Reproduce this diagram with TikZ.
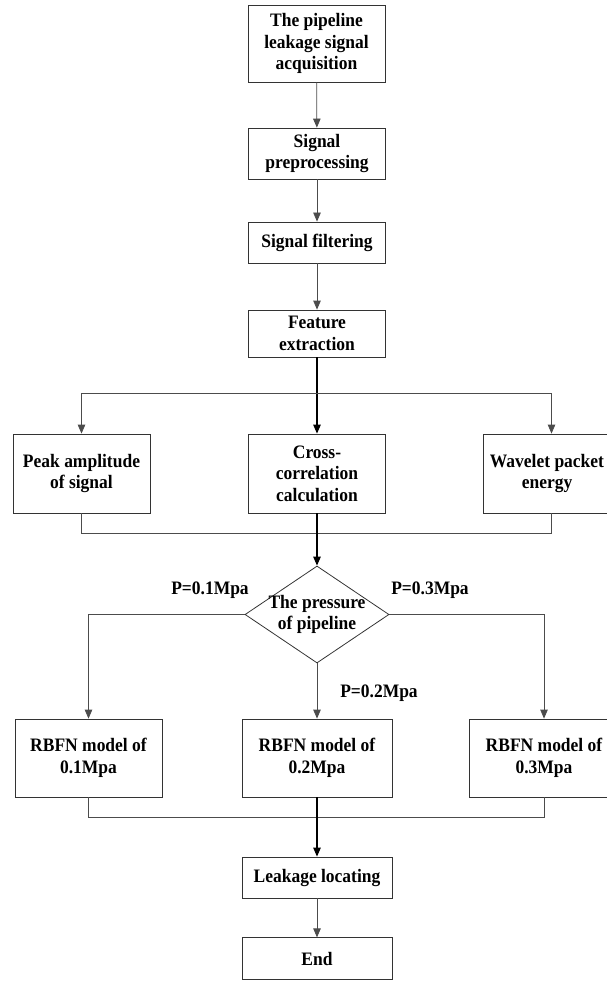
\documentclass[tikz,border=0pt]{standalone}
\usepackage{fontspec}
\setmainfont{Liberation Serif}[FakeStretch=0.92]
\usetikzlibrary{shapes.geometric, arrows.meta, positioning}
\tikzstyle{block} = [rectangle, draw=black!80, line width=0.8pt, align=center, minimum width=137pt, inner sep=0pt, font=\fontsize{19}{21.5}\selectfont\bfseries]
\tikzstyle{decision} = [diamond, draw=black!80, line width=0.8pt, minimum width=144pt, minimum height=97pt, inner sep=0pt]
\tikzstyle{tag} = [inner sep=0pt, font=\fontsize{19}{21.5}\selectfont\bfseries]
\tikzstyle{line} = [draw=black!70, line width=0.8pt, -{Triangle[length=9pt, width=7.5pt]}]
\tikzstyle{link} = [draw=black!70, line width=0.8pt]

\begin{document}
\begin{tikzpicture}[x=1pt, y=-1pt]
        \useasboundingbox (0,0) rectangle (606,981);
        % Nodes
        \node [block, minimum height=77pt] (acq) at (316.5,43.5) {The pipeline\\leakage signal\\acquisition};
        \node [block, minimum height=51pt] (prep) at (317,153.5) {Signal\\preprocessing};
        \node [block, minimum height=41pt] (filt) at (317,242.5) {Signal filtering};
        \node [block, minimum height=47pt] (feat) at (317,333.5) {Feature\\extraction};
        \node [block, minimum height=79pt] (peak) at (81.5,473.5) {Peak amplitude\\of signal};
        \node [block, minimum height=79pt] (cross) at (317,473.5) {Cross-\\correlation\\calculation};
        \node [block, minimum height=79pt] (wave) at (551.5,473.5) {Wavelet packet\hspace*{9pt}\\energy\hspace*{9pt}};
        \node [decision, label={[tag, align=center]center:The pressure\\of pipeline}] (dec) at (317,614.5) {};
        \node [block, minimum width=147pt, minimum height=78pt] (m1) at (88.5,758) {RBFN model of\\0.1Mpa};
        \node [block, minimum width=150pt, minimum height=78pt] (m2) at (317,758) {RBFN model of\\0.2Mpa};
        \node [block, minimum width=150pt, minimum height=78pt] (m3) at (544,758) {RBFN model of\\0.3Mpa};
        \node [block, minimum width=150pt, minimum height=41pt] (locate) at (317,877.5) {Leakage locating};
        \node [block, minimum width=150pt, minimum height=42pt, below=39pt of locate] (end) {End};
        \node [tag] (p1) at (210,590) {P=0.1Mpa};
        \node [tag] (p3) at (430,590) {P=0.3Mpa};
        \node [tag] (p2) at (379,693) {P=0.2Mpa};
        \coordinate (split) at (317,393);
        \coordinate (join1) at (317,533);
        \coordinate (join2) at (317,817);

        % Arrows
        \path [line] (acq) -- (prep);
        \path [line] (prep) -- (filt);
        \path [line] (filt) -- (feat);
        \path [line, draw=black, line width=1.1pt] (feat) -- (cross);
        \path [line] (split) -| (peak);
        \path [line] (split) -| (wave);
        \path [link] (peak) |- (join1);
        \path [link] (wave) |- (join1);
        \path [line, draw=black, line width=1.1pt] (cross) -- (dec);
        \path [line] (dec.west) -| (m1);
        \path [line] (dec.east) -| (m3);
        \path [line] (dec) -- (m2);
        \path [link] (m1) |- (join2);
        \path [link] (m3) |- (join2);
        \path [line, draw=black, line width=1.1pt] (m2) -- (locate);
        \path [line] (locate) -- (end);
    \end{tikzpicture}
\end{document}
